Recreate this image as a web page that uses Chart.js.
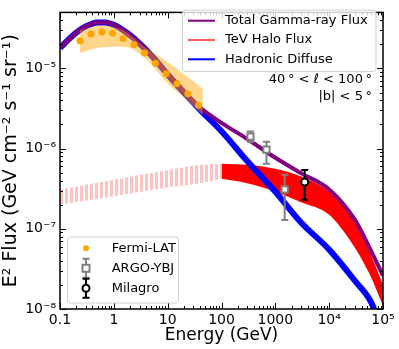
<!DOCTYPE html>
<html>
<head>
<meta charset="utf-8">
<script src="https://cdn.jsdelivr.net/npm/chart.js@4.4.0/dist/chart.umd.min.js"></script>
<style>
  html, body { margin: 0; padding: 0; background: #fff; }
</style>
</head>
<body>
<canvas id="sedChart" width="399" height="349"></canvas>
<script>
// model curves (GeV, GeV cm^-2 s^-1 sr^-1)
const modelEnergy   = [0.1, 0.15, 0.2, 0.3, 0.5, 0.7, 1, 1.5, 2, 3, 5, 10, 20, 40, 100, 300, 1000, 3000, 1e4, 3e4, 6e4, 1e5];
const hadronicFlux  = [1.8e-5, 2.35e-5, 2.8e-5, 3.35e-5, 3.75e-5, 3.75e-5, 3.5e-5, 3.0e-5, 2.6e-5, 2.05e-5, 1.45e-5, 8.4e-6, 5.0e-6, 3.05e-6, 1.65e-6, 7.0e-7, 2.9e-7, 1.2e-7, 5.5e-8, 2.25e-8, 1.22e-8, 5e-9];
const totalFlux     = [1.8e-5, 2.35e-5, 2.8e-5, 3.35e-5, 3.75e-5, 3.75e-5, 3.5e-5, 3.0e-5, 2.6e-5, 2.05e-5, 1.45e-5, 8.5e-6, 5.2e-6, 3.25e-6, 2.1e-6, 1.32e-6, 7.7e-7, 4.95e-7, 3.1e-7, 1.3e-7, 5.3e-8, 2.6e-8];

// TeV halo band
const haloEnergy    = [100, 300, 1000, 3000, 1e4, 2.4e4, 5.6e4, 1e5];
const haloUpper     = [6.5e-7, 6.3e-7, 5.6e-7, 4.5e-7, 2.9e-7, 1.55e-7, 5.2e-8, 2.0e-8];
const haloLower     = [4.2e-7, 3.7e-7, 2.9e-7, 2.15e-7, 1.5e-7, 7.3e-8, 2.75e-8, 1.1e-8];

// halo extrapolated below 100 GeV (hatched)
const haloLowEnergy = [0.1, 1, 10, 40, 100];
const haloLowUpper  = [3.1e-7, 4.1e-7, 5.4e-7, 6.3e-7, 6.5e-7];
const haloLowLower  = [2.0e-7, 2.55e-7, 3.27e-7, 3.7e-7, 4.2e-7];

// Fermi-LAT
const fermiEnergy   = [0.235, 0.376, 0.601, 0.949, 1.49, 2.36, 3.72, 5.97, 9.38, 14.8, 23.7, 37.4];
const fermiFlux     = [2.22e-5, 2.69e-5, 2.85e-5, 2.75e-5, 2.37e-5, 1.97e-5, 1.56e-5, 1.16e-5, 8.6e-6, 6.45e-6, 4.84e-6, 3.47e-6];
const fermiBandE    = [0.235, 0.6, 1.5, 3.7, 9.4, 23.7, 45];
const fermiBandHigh = [3.0e-5, 3.4e-5, 2.98e-5, 1.86e-5, 1.23e-5, 7.85e-6, 5.6e-6];
const fermiBandLow  = [1.57e-5, 1.84e-5, 1.86e-5, 1.37e-5, 6.8e-6, 3.9e-6, 2.6e-6];

// ARGO-YBJ
const argoEnergy    = [345, 684, 1494];
const argoFlux      = [1.41e-6, 9.7e-7, 3.1e-7];
const argoLow       = [1.21e-6, 6.5e-7, 1.29e-7];
const argoHigh      = [1.64e-6, 1.22e-6, 4.74e-7];

// Milagro
const milagroEnergy = [3510];
const milagroFlux   = [3.84e-7];
const milagroLow    = [2.3e-7];
const milagroHigh   = [5.4e-7];

const xTicks = [0.1, 1, 10, 100, 1000, 1e4, 1e5];
const yTicks = [1e-8, 1e-7, 1e-6, 1e-5];

const sup = {'-': '\u207B', '0': '\u2070', '1': '\u00B9', '2': '\u00B2', '3': '\u00B3', '4': '\u2074', '5': '\u2075', '6': '\u2076', '7': '\u2077', '8': '\u2078', '9': '\u2079'};
const pow10 = (v) => {
    const e = Math.round(Math.log10(v));
    return '10' + String(e).split('').map(c => sup[c]).join('');
};

const pts = (xs, ys) => xs.map((x, i) => ({x: x, y: ys[i]}));

Chart.defaults.font.family = "'DejaVu Sans', sans-serif";
Chart.defaults.color = '#000';

const canvas = document.getElementById('sedChart');
const ctx0 = canvas.getContext('2d');

const stripe = document.createElement('canvas');
stripe.width = 5;
stripe.height = 5;
const sctx = stripe.getContext('2d');
sctx.fillStyle = 'rgba(255, 0, 0, 0.24)';
sctx.fillRect(0, 0, 3, 5);
const hatch = ctx0.createPattern(stripe, 'repeat');

const lineDs = (label, data, color, width, order) => ({
    label: label, data: data, showLine: true, borderColor: color, borderWidth: width,
    pointRadius: 0, fill: false, cubicInterpolationMode: 'monotone', order: order
});

// error bars are drawn just before their own markers
const errorBars = {
    id: 'errorBars',
    beforeDatasetDraw(chart, args) {
        const ds = chart.data.datasets[args.index];
        if (!ds.errLow) return;
        const {ctx, scales: {x, y}} = chart;
        ctx.save();
        ctx.strokeStyle = ds.borderColor;
        ctx.lineWidth = 2;
        ds.data.forEach((p, i) => {
            const px = x.getPixelForValue(p.x);
            const y1 = y.getPixelForValue(ds.errLow[i]);
            const y2 = y.getPixelForValue(ds.errHigh[i]);
            ctx.beginPath();
            ctx.moveTo(px, y1); ctx.lineTo(px, y2);
            ctx.moveTo(px - 3.5, y1); ctx.lineTo(px + 3.5, y1);
            ctx.moveTo(px - 3.5, y2); ctx.lineTo(px + 3.5, y2);
            ctx.stroke();
        });
        ctx.restore();
    }
};

const drawErr = (ctx, x, y, h, color) => {
    ctx.strokeStyle = color;
    ctx.lineWidth = 2;
    ctx.beginPath();
    ctx.moveTo(x, y - h); ctx.lineTo(x, y + h);
    ctx.moveTo(x - 3.5, y - h); ctx.lineTo(x + 3.5, y - h);
    ctx.moveTo(x - 3.5, y + h); ctx.lineTo(x + 3.5, y + h);
    ctx.stroke();
};

const roundBox = (ctx, x, y, w, h, r) => {
    ctx.beginPath();
    ctx.moveTo(x + r, y);
    ctx.arcTo(x + w, y, x + w, y + h, r);
    ctx.arcTo(x + w, y + h, x, y + h, r);
    ctx.arcTo(x, y + h, x, y, r);
    ctx.arcTo(x, y, x + w, y, r);
    ctx.closePath();
    ctx.fillStyle = 'rgba(255,255,255,0.8)';
    ctx.fill();
    ctx.strokeStyle = '#d0d0d0';
    ctx.lineWidth = 1;
    ctx.stroke();
};

const frameAndTicks = {
    id: 'frameAndTicks',
    afterDatasetsDraw(chart) {
        const {ctx, chartArea: a, scales: {x, y}} = chart;
        ctx.save();
        ctx.strokeStyle = '#000';
        ctx.lineWidth = 1;
        ctx.beginPath();
        for (let d = -1; d <= 4; d++) {
            for (let m = 1; m <= 10; m++) {
                if (m === 10 && d !== 4) continue;
                const v = m * Math.pow(10, d);
                const px = Math.round(x.getPixelForValue(v)) + 0.5;
                const len = (m === 1 || m === 10) ? 6 : 3;
                ctx.moveTo(px, a.bottom); ctx.lineTo(px, a.bottom - len);
                ctx.moveTo(px, a.top); ctx.lineTo(px, a.top + len);
            }
        }
        for (let d = -8; d <= -5; d++) {
            for (let m = 1; m <= 9; m++) {
                const v = m * Math.pow(10, d);
                if (v > 5.01e-5) continue;
                const py = Math.round(y.getPixelForValue(v)) + 0.5;
                const len = m === 1 ? 6 : 3;
                ctx.moveTo(a.left, py); ctx.lineTo(a.left + len, py);
                ctx.moveTo(a.right, py); ctx.lineTo(a.right - len, py);
            }
        }
        ctx.stroke();
        ctx.lineWidth = 1.5;
        ctx.strokeRect(a.left, a.top, a.width, a.height);
        ctx.restore();
    },
    afterDraw(chart) {
        const ctx = chart.ctx;
        ctx.save();
        ctx.font = "13px 'DejaVu Sans'";
        ctx.textBaseline = 'middle';

        // model legend
        roundBox(ctx, 182.5, 10, 193.5, 61.5, 3);
        const lines = [['Total Gamma-ray Flux', 'purple'], ['TeV Halo Flux', 'rgba(255,0,0,0.65)'], ['Hadronic Diffuse', 'blue']];
        lines.forEach((l, i) => {
            const yy = 20.7 + i * 19.3;
            ctx.strokeStyle = l[1];
            ctx.lineWidth = 2;
            ctx.beginPath();
            ctx.moveTo(188, yy); ctx.lineTo(215, yy);
            ctx.stroke();
            ctx.fillStyle = '#000';
            ctx.textAlign = 'left';
            ctx.fillText(l[0], 225, yy);
        });

        // data legend
        roundBox(ctx, 67.5, 237, 111, 66, 3);
        const lx = 86;
        ctx.fillStyle = 'orange';
        ctx.beginPath(); ctx.arc(lx, 248.3, 3, 0, 2 * Math.PI); ctx.fill();
        drawErr(ctx, lx, 268.3, 9.5, 'gray');
        ctx.fillStyle = '#fff';
        ctx.lineWidth = 2;
        ctx.fillRect(lx - 3.5, 268.3 - 3.5, 7, 7);
        ctx.strokeRect(lx - 3.5, 268.3 - 3.5, 7, 7);
        drawErr(ctx, lx, 288.3, 9.5, '#000');
        ctx.beginPath(); ctx.arc(lx, 288.3, 3.5, 0, 2 * Math.PI);
        ctx.fillStyle = '#fff'; ctx.fill(); ctx.stroke();
        ctx.fillStyle = '#000';
        ctx.textAlign = 'left';
        ctx.fillText('Fermi-LAT', 111.7, 248.3);
        ctx.fillText('ARGO-YBJ', 111.7, 268.3);
        ctx.fillText('Milagro', 111.7, 288.3);

        // region
        ctx.textAlign = 'right';
        ctx.fillText('40\u2009\u00B0 < \u2113 < 100\u2009\u00B0', 372, 80);
        ctx.fillText('|b| < 5\u2009\u00B0', 372, 96.5);
        ctx.restore();
    }
};

new Chart(canvas, {
    type: 'scatter',
    data: {
        datasets: [
            {label: 'Milagro', data: pts(milagroEnergy, milagroFlux), errLow: milagroLow, errHigh: milagroHigh,
             pointRadius: 3.5, pointBorderWidth: 2, borderColor: '#000', backgroundColor: '#fff', order: 0},
            {label: 'ARGO-YBJ', data: pts(argoEnergy, argoFlux), errLow: argoLow, errHigh: argoHigh,
             pointStyle: 'rect', pointRadius: 4.4, pointBorderWidth: 2, borderColor: 'gray', backgroundColor: '#fff', order: 1},
            {label: 'Fermi-LAT', data: pts(fermiEnergy, fermiFlux), pointRadius: 3.5, pointBorderWidth: 0,
             borderColor: 'orange', backgroundColor: 'orange', order: 2},
            Object.assign(lineDs('Fermi band', pts(fermiBandE, fermiBandHigh), 'rgba(0,0,0,0)', 0, 3),
                {fill: 4, backgroundColor: 'rgba(255,165,0,0.45)'}),
            lineDs('Fermi band low', pts(fermiBandE, fermiBandLow), 'rgba(0,0,0,0)', 0, 4),
            lineDs('Total Gamma-ray Flux', pts(modelEnergy, totalFlux), 'purple', 4, 5),
            lineDs('Hadronic Diffuse', pts(modelEnergy, hadronicFlux), 'blue', 6, 6),
            Object.assign(lineDs('TeV Halo Flux', pts(haloEnergy, haloUpper), 'rgba(0,0,0,0)', 0, 7),
                {fill: 8, backgroundColor: 'red'}),
            lineDs('TeV Halo low', pts(haloEnergy, haloLower), 'rgba(0,0,0,0)', 0, 8),
            Object.assign(lineDs('Halo extrapolation', pts(haloLowEnergy, haloLowUpper), 'rgba(0,0,0,0)', 0, 9),
                {fill: 10, backgroundColor: hatch}),
            lineDs('Halo extrapolation low', pts(haloLowEnergy, haloLowLower), 'rgba(0,0,0,0)', 0, 10)
        ]
    },
    options: {
        responsive: false,
        animation: false,
        devicePixelRatio: 1,
        layout: {padding: {top: 3, right: 16, left: 0, bottom: 0}},
        plugins: {legend: {display: false}, tooltip: {enabled: false}},
        scales: {
            x: {
                type: 'logarithmic', min: 0.1, max: 1e5,
                grid: {display: false, drawTicks: false},
                border: {display: false},
                afterBuildTicks: (s) => { s.ticks = xTicks.map(v => ({value: v})); },
                afterFit: (s) => { s.height = 40; },
                ticks: {
                    autoSkip: false, maxRotation: 0, padding: 3, font: {size: 14},
                    callback: (v) => v >= 1e4 ? pow10(v) : String(v)
                },
                title: {display: true, text: 'Energy (GeV)', font: {size: 17}, padding: {top: 0, bottom: 3}}
            },
            y: {
                type: 'logarithmic', min: 1e-8, max: 5e-5,
                grid: {display: false, drawTicks: false},
                border: {display: false},
                afterBuildTicks: (s) => { s.ticks = yTicks.map(v => ({value: v})); },
                afterFit: (s) => { s.width = 60; },
                ticks: {padding: 4, font: {size: 14}, callback: (v) => pow10(v)},
                title: {display: true, text: 'E\u00B2 Flux (GeV cm\u207B\u00B2 s\u207B\u00B9 sr\u207B\u00B9)', font: {size: 19}, padding: {top: 0, bottom: 0}}
            }
        }
    },
    plugins: [errorBars, frameAndTicks]
});
</script>
</body>
</html>
